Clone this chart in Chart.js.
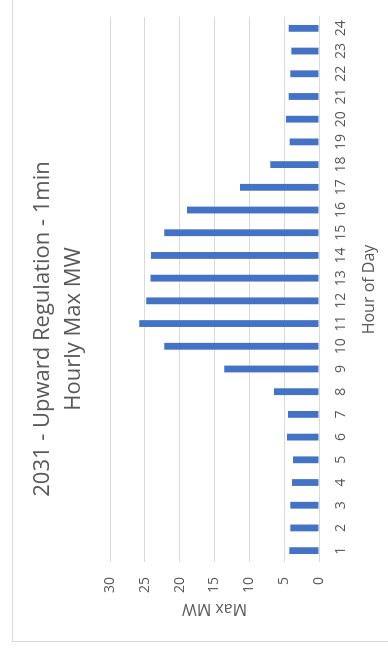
<!DOCTYPE html>
<html>
<head>
<meta charset="utf-8">
<script src="https://cdn.jsdelivr.net/npm/chart.js@4"></script>
<style>
  html, body { margin: 0; padding: 0; background: #fff; overflow: hidden; }
  body { width: 388px; height: 648px; position: relative; }
  /* chart is drawn upright, then turned a quarter to the left like the picture */
  #frame {
    position: absolute; left: 0; top: 0;
    width: 646px; height: 378px;
    border: 1px solid #d9d9d9;
    transform-origin: 0 0;
    transform: translate(12px, 642px) rotate(-90deg);
    background: #fff;
  }
  canvas { display: block; }
</style>
</head>
<body>
<div id="frame"><canvas id="myChart" width="646" height="378"></canvas></div>
<script>
// hours 1..24
const hours = ["1","2","3","4","5","6","7","8","9","10","11","12","13","14","15","16","17","18","19","20","21","22","23","24"];
// hourly max MW
const maxMW = [4.26, 4.12, 4.12, 3.88, 3.73, 4.59, 4.45, 6.46, 13.6, 22.2, 25.8, 24.8,
               24.2, 24.1, 22.2, 18.95, 11.34, 6.99, 4.21, 4.74, 4.35, 4.12, 3.97, 4.35];
const titleLines = ["2031 - Upward Regulation - 1min", "Hourly Max MW"];
const yMin = 0, yMax = 30, yStep = 5;

const gray = "#595959";
const gridGray = "#d9d9d9";
const fontFam = "'Open Sans', sans-serif";

const ctx = document.getElementById("myChart").getContext("2d");
new Chart(ctx, {
  type: "bar",
  data: {
    labels: hours,
    datasets: [
      {
        label: "Max MW",
        data: maxMW,
        backgroundColor: "#4472c4",
        borderWidth: 0,
        categoryPercentage: 1,
        barPercentage: 0.3,
      },
    ],
  },
  options: {
    responsive: false,
    animation: false,
    devicePixelRatio: 1,
    layout: { padding: { left: 0, right: 22, top: 0, bottom: 0 } },
    plugins: {
      legend: { display: false },
      tooltip: { enabled: false },
      title: {
        display: true,
        text: titleLines,
        color: gray,
        font: { family: fontFam, size: 22, weight: "normal", lineHeight: 1.4 },
        padding: { top: 14.6, bottom: 20.8 },
      },
    },
    scales: {
      x: {
        grid: { display: false, drawTicks: false },
        border: { display: true, color: gridGray, width: 1 },
        ticks: {
          color: gray,
          font: { family: fontFam, size: 14 },
          padding: 14,
          maxRotation: 0,
          autoSkip: false,
        },
        title: {
          display: true,
          text: "Hour of Day",
          color: gray,
          font: { family: fontFam, size: 16 },
          padding: { top: 0, bottom: 12.4 },
        },
        afterFit: (scale) => { scale.height = 72; },
      },
      y: {
        min: yMin,
        max: yMax,
        grid: { color: gridGray, drawTicks: false },
        border: { display: false },
        ticks: {
          stepSize: yStep,
          color: gray,
          font: { family: fontFam, size: 14 },
          padding: 15,
        },
        title: {
          display: true,
          text: "Max MW",
          color: gray,
          font: { family: fontFam, size: 16 },
          padding: { top: 22.4, bottom: 0 },
        },
        afterFit: (scale) => { scale.width = 79; },
      },
    },
  },
});
</script>
</body>
</html>
